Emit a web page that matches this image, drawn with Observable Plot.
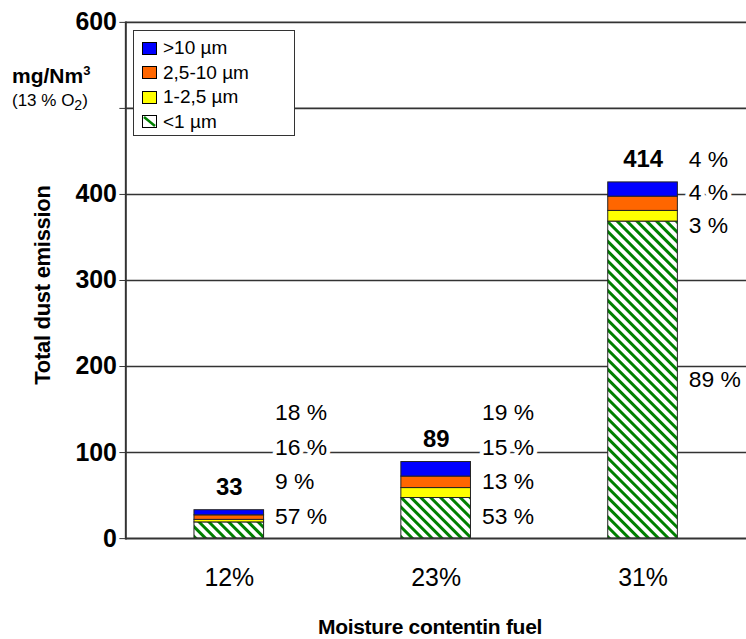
<!DOCTYPE html>
<html>
<head>
<meta charset="utf-8">
<script src="https://cdn.jsdelivr.net/npm/d3@7"></script>
<script src="https://cdn.jsdelivr.net/npm/@observablehq/plot@0.6"></script>
<style>
  html, body { margin: 0; padding: 0; background: #fff; overflow: hidden; }
  #wrap { position: relative; width: 746px; height: 639px; overflow: hidden; font-family: "Liberation Sans", Arial, sans-serif; color: #000; }
  #wrap > svg { position: absolute; left: 0; top: 0; }
  .ov { position: absolute; white-space: nowrap; }
  #legend { position: absolute; left: 133px; top: 30px; width: 162px; height: 106px; border: 1px solid #333; background: #fff; box-sizing: border-box; }
  .lrow { position: absolute; left: 8px; height: 24px; display: flex; align-items: center; font-size: 19px; }
  .sw { width: 15px; height: 13px; margin-right: 6px; display: block; }
  sup { font-size: 13px; vertical-align: 8px; line-height: 0; }
</style>
</head>
<body>
<div id="wrap"></div>
<script>
// ---- data ----
const categories = ["12%", "23%", "31%"];
const totals = [33, 89, 414];
const seriesNames = ["<1 µm", "1-2,5 µm", "2,5-10 µm", ">10 µm"];   // bottom to top
const pctBelow1 = [57, 53, 89];
const pct1to25 = [9, 13, 3];
const pct25to10 = [16, 15, 4];
const pctAbove10 = [18, 19, 4];
const yTicks = [0, 100, 200, 300, 400, 500, 600];
const yTickLabels = ["0", "100", "200", "300", "400", "", "600"];
const yTitle = "Total dust emission";
const xTitle = "Moisture contentin fuel";
const unitLabel = "mg/Nm<sup>3</sup>";
const unitSub = "(13 % O<sub>2</sub>)";

// ---- styles ----
const seriesFills = ["url(#hatch)", "#FFFF00", "#FF6600", "#0000FF"];

const pctBySeries = [pctBelow1, pct1to25, pct25to10, pctAbove10];
const rows = [];
categories.forEach((c, i) => {
  seriesNames.forEach((s, j) => {
    rows.push({cat: c, series: s, pct: pctBySeries[j][i], value: totals[i] * pctBySeries[j][i] / 100});
  });
});
const totalRows = categories.map((c, i) => ({cat: c, total: totals[i]}));

// percent label placement (data units): stack upward from segment middles, keep a minimum gap
const GAP = 40, MIN = 26;
const labelRows = [];
categories.forEach((c, i) => {
  let cum = 0, prev = -Infinity;
  const ys = seriesNames.map((s, j) => {
    const v = totals[i] * pctBySeries[j][i] / 100;
    const mid = cum + v / 2; cum += v;
    const y = Math.max(mid, prev + GAP, MIN); prev = y; return y;
  });
  if (totals[i] > seriesNames.length * GAP) {
    let cap = totals[i] + 26;
    for (let j = ys.length - 1; j >= 0; j--) { ys[j] = Math.min(ys[j], cap); cap = ys[j] - 38; }
  }
  seriesNames.forEach((s, j) => labelRows.push({cat: c, y: ys[j], text: pctBySeries[j][i] + " %"}));
});

const plot = Plot.plot({
  width: 750,
  height: 639,
  marginLeft: 126,
  marginRight: 0,
  marginTop: 22,
  marginBottom: 98,
  style: {fontFamily: "'Liberation Sans', Arial, sans-serif", background: "transparent", color: "#000", overflow: "visible"},
  x: {domain: categories, paddingInner: 0.663, paddingOuter: 0.3315, label: null},
  y: {domain: [0, 600], label: null},
  color: {domain: seriesNames, range: seriesFills},
  marks: [
    Plot.ruleY(yTicks.filter(d => d > 0), {stroke: "#333", strokeWidth: 1.6}),
    Plot.barY(rows, {x: "cat", y: "value", fill: "series", stroke: "#222", strokeWidth: 1, order: seriesNames}),
    Plot.ruleY([0], {stroke: "#333", strokeWidth: 2}),
    Plot.frame({anchor: "left", stroke: "#333", strokeWidth: 2}),
    Plot.axisY(yTicks, {tickFormat: (d) => yTickLabels[yTicks.indexOf(d)], tickSize: 6, tickPadding: 3, fontSize: 25, fontWeight: "bold", stroke: "#333", label: null}),
    Plot.axisX({tickSize: 0, tickPadding: 30, fontSize: 25, label: null}),
    Plot.text(totalRows, {x: "cat", y: "total", text: d => String(d.total), dy: -23, fontSize: 24, fontWeight: "bold"}),
    Plot.text(labelRows, {x: "cat", y: "y", text: "text", dx: 46, textAnchor: "start", fontSize: 23, fill: "#000", stroke: "white", strokeWidth: 8, paintOrder: "stroke"})
  ]
});

// hatch pattern
const ns = "http://www.w3.org/2000/svg";
const defs = document.createElementNS(ns, "defs");
defs.innerHTML = '<pattern id="hatch" patternUnits="userSpaceOnUse" width="7" height="7" patternTransform="rotate(-45)">' +
  '<rect width="7" height="7" fill="white"/><rect width="3" height="7" fill="#008000"/></pattern>';
plot.insertBefore(defs, plot.firstChild);

const wrap = document.getElementById("wrap");
wrap.appendChild(plot);

function ov(html, css) {
  const d = document.createElement("div");
  d.className = "ov"; d.innerHTML = html; d.style.cssText += css;
  wrap.appendChild(d); return d;
}
ov(unitLabel, "left:12px; top:64px; font-size:21px; font-weight:bold;");
ov(unitSub, "left:12px; top:91px; font-size:17px;");
ov(yTitle, "left:43px; top:285px; font-size:22px; font-weight:bold; letter-spacing:-0.3px; transform:translate(-50%,-50%) rotate(-90deg);");
ov(xTitle, "left:430px; top:627px; font-size:21px; font-weight:bold; letter-spacing:-0.3px; transform:translate(-50%,-50%);");

// legend (top series first)
const lg = document.createElement("div"); lg.id = "legend"; wrap.appendChild(lg);
const order = [3, 2, 1, 0];
order.forEach((j, k) => {
  const r = document.createElement("div"); r.className = "lrow"; r.style.top = (5 + k * 24.5) + "px";
  const inner = j === 0
    ? '<rect x="0.5" y="0.5" width="14" height="12" fill="white" stroke="#000"/><line x1="2" y1="2" x2="13" y2="11" stroke="#008000" stroke-width="2.5"/>'
    : '<rect x="0.5" y="0.5" width="14" height="12" fill="' + seriesFills[j] + '" stroke="#000"/>';
  r.innerHTML = '<svg class="sw" width="15" height="13">' + inner + '</svg>';
  const t = document.createElement("span"); t.textContent = seriesNames[j]; r.appendChild(t);
  lg.appendChild(r);
});
</script>
</body>
</html>
